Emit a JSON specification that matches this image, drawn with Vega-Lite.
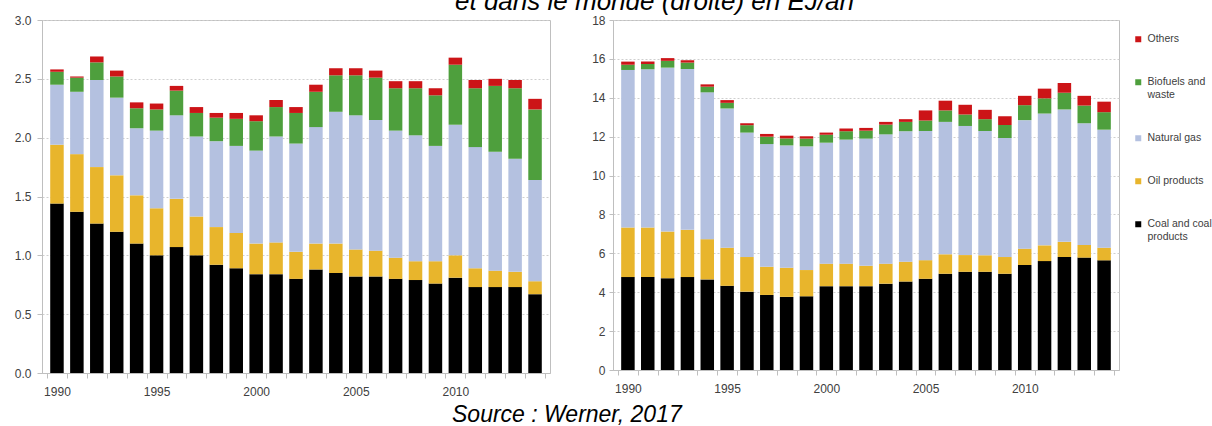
{
  "$schema": "https://vega.github.io/schema/vega-lite/v6.json",
  "autosize": {"type": "none"},
  "padding": {"left": 42, "top": 20, "right": 1170, "bottom": 406},
  "background": "white",
  "bounds": "flush",
  "spacing": 63,
  "config": {
    "font": "Liberation Sans",
    "view": {"stroke": "#bfbfbf", "strokeWidth": 1},
    "axis": {
      "labelFont": "Liberation Sans",
      "labelFontSize": 12,
      "labelColor": "#404040",
      "domainColor": "#bfbfbf",
      "tickColor": "#bfbfbf",
      "gridColor": "#cfcfcf",
      "gridDash": [2, 2],
      "title": null
    },
    "legend": {
      "labelFont": "Liberation Sans",
      "labelFontSize": 10.5,
      "labelColor": "#404040"
    }
  },
  "title": {
    "text": "Source : Werner, 2017",
    "orient": "bottom",
    "anchor": "start",
    "frame": "group",
    "dx": 410,
    "offset": 6,
    "fontSize": 23,
    "fontStyle": "italic",
    "fontWeight": "normal",
    "font": "Liberation Sans",
    "color": "#000000"
  },
  "datasets": {
    "europe": [
      {"year": 1990, "coal": 1.44, "oil": 0.50, "gas": 0.51, "biofuels": 0.11, "others": 0.02},
      {"year": 1991, "coal": 1.37, "oil": 0.49, "gas": 0.53, "biofuels": 0.12, "others": 0.01},
      {"year": 1992, "coal": 1.27, "oil": 0.48, "gas": 0.74, "biofuels": 0.15, "others": 0.05},
      {"year": 1993, "coal": 1.20, "oil": 0.48, "gas": 0.66, "biofuels": 0.18, "others": 0.05},
      {"year": 1994, "coal": 1.10, "oil": 0.41, "gas": 0.57, "biofuels": 0.17, "others": 0.05},
      {"year": 1995, "coal": 1.00, "oil": 0.40, "gas": 0.66, "biofuels": 0.18, "others": 0.05},
      {"year": 1996, "coal": 1.07, "oil": 0.41, "gas": 0.71, "biofuels": 0.21, "others": 0.04},
      {"year": 1997, "coal": 1.00, "oil": 0.33, "gas": 0.68, "biofuels": 0.20, "others": 0.05},
      {"year": 1998, "coal": 0.92, "oil": 0.32, "gas": 0.73, "biofuels": 0.20, "others": 0.04},
      {"year": 1999, "coal": 0.89, "oil": 0.30, "gas": 0.74, "biofuels": 0.23, "others": 0.05},
      {"year": 2000, "coal": 0.84, "oil": 0.26, "gas": 0.79, "biofuels": 0.25, "others": 0.05},
      {"year": 2001, "coal": 0.84, "oil": 0.27, "gas": 0.90, "biofuels": 0.25, "others": 0.06},
      {"year": 2002, "coal": 0.80, "oil": 0.23, "gas": 0.92, "biofuels": 0.26, "others": 0.05},
      {"year": 2003, "coal": 0.88, "oil": 0.22, "gas": 0.99, "biofuels": 0.30, "others": 0.06},
      {"year": 2004, "coal": 0.85, "oil": 0.25, "gas": 1.12, "biofuels": 0.31, "others": 0.06},
      {"year": 2005, "coal": 0.82, "oil": 0.23, "gas": 1.14, "biofuels": 0.34, "others": 0.06},
      {"year": 2006, "coal": 0.82, "oil": 0.22, "gas": 1.11, "biofuels": 0.36, "others": 0.06},
      {"year": 2007, "coal": 0.80, "oil": 0.18, "gas": 1.08, "biofuels": 0.36, "others": 0.06},
      {"year": 2008, "coal": 0.79, "oil": 0.16, "gas": 1.07, "biofuels": 0.40, "others": 0.06},
      {"year": 2009, "coal": 0.76, "oil": 0.19, "gas": 0.98, "biofuels": 0.43, "others": 0.06},
      {"year": 2010, "coal": 0.81, "oil": 0.19, "gas": 1.11, "biofuels": 0.51, "others": 0.06},
      {"year": 2011, "coal": 0.73, "oil": 0.16, "gas": 1.03, "biofuels": 0.50, "others": 0.07},
      {"year": 2012, "coal": 0.73, "oil": 0.14, "gas": 1.01, "biofuels": 0.56, "others": 0.06},
      {"year": 2013, "coal": 0.73, "oil": 0.13, "gas": 0.96, "biofuels": 0.60, "others": 0.07},
      {"year": 2014, "coal": 0.67, "oil": 0.11, "gas": 0.86, "biofuels": 0.60, "others": 0.09}
    ],
    "world": [
      {"year": 1990, "coal": 4.78, "oil": 2.55, "gas": 8.10, "biofuels": 0.27, "others": 0.16},
      {"year": 1991, "coal": 4.78, "oil": 2.55, "gas": 8.14, "biofuels": 0.27, "others": 0.12},
      {"year": 1992, "coal": 4.72, "oil": 2.40, "gas": 8.43, "biofuels": 0.35, "others": 0.14},
      {"year": 1993, "coal": 4.78, "oil": 2.43, "gas": 8.27, "biofuels": 0.33, "others": 0.12},
      {"year": 1994, "coal": 4.66, "oil": 2.07, "gas": 7.55, "biofuels": 0.29, "others": 0.12},
      {"year": 1995, "coal": 4.33, "oil": 1.96, "gas": 7.16, "biofuels": 0.29, "others": 0.14},
      {"year": 1996, "coal": 4.03, "oil": 1.78, "gas": 6.40, "biofuels": 0.38, "others": 0.10},
      {"year": 1997, "coal": 3.86, "oil": 1.45, "gas": 6.31, "biofuels": 0.38, "others": 0.14},
      {"year": 1998, "coal": 3.76, "oil": 1.50, "gas": 6.29, "biofuels": 0.36, "others": 0.14},
      {"year": 1999, "coal": 3.79, "oil": 1.35, "gas": 6.36, "biofuels": 0.40, "others": 0.12},
      {"year": 2000, "coal": 4.31, "oil": 1.16, "gas": 6.22, "biofuels": 0.41, "others": 0.11},
      {"year": 2001, "coal": 4.31, "oil": 1.16, "gas": 6.38, "biofuels": 0.43, "others": 0.14},
      {"year": 2002, "coal": 4.31, "oil": 1.05, "gas": 6.54, "biofuels": 0.41, "others": 0.14},
      {"year": 2003, "coal": 4.44, "oil": 1.03, "gas": 6.65, "biofuels": 0.50, "others": 0.14},
      {"year": 2004, "coal": 4.55, "oil": 1.02, "gas": 6.71, "biofuels": 0.48, "others": 0.14},
      {"year": 2005, "coal": 4.69, "oil": 0.96, "gas": 6.64, "biofuels": 0.54, "others": 0.52},
      {"year": 2006, "coal": 4.95, "oil": 1.00, "gas": 6.81, "biofuels": 0.59, "others": 0.50},
      {"year": 2007, "coal": 5.05, "oil": 0.86, "gas": 6.64, "biofuels": 0.59, "others": 0.50},
      {"year": 2008, "coal": 5.05, "oil": 0.85, "gas": 6.39, "biofuels": 0.61, "others": 0.48},
      {"year": 2009, "coal": 4.95, "oil": 0.86, "gas": 6.12, "biofuels": 0.67, "others": 0.45},
      {"year": 2010, "coal": 5.40, "oil": 0.84, "gas": 6.61, "biofuels": 0.77, "others": 0.48},
      {"year": 2011, "coal": 5.60, "oil": 0.81, "gas": 6.78, "biofuels": 0.78, "others": 0.50},
      {"year": 2012, "coal": 5.81, "oil": 0.78, "gas": 6.81, "biofuels": 0.86, "others": 0.50},
      {"year": 2013, "coal": 5.78, "oil": 0.65, "gas": 6.26, "biofuels": 0.91, "others": 0.50},
      {"year": 2014, "coal": 5.64, "oil": 0.65, "gas": 6.07, "biofuels": 0.90, "others": 0.54}
    ]
  },
  "hconcat": [
    {
      "width": 508,
      "height": 353,
      "data": {"name": "europe"},
      "transform": [
        {"fold": ["coal", "oil", "gas", "biofuels", "others"], "as": ["fuel", "value"]},
        {"window": [{"op": "row_number", "as": "layer"}], "groupby": ["year"]}
      ],
      "mark": {"type": "bar", "width": 13.5},
      "encoding": {
        "x": {
          "field": "year",
          "type": "quantitative",
          "scale": {"domain": [1989.5, 2014.5], "nice": false, "zero": false},
          "axis": {
            "values": [1989.5, 1990, 1990.5, 1991.5, 1992.5, 1993.5, 1994.5, 1995, 1995.5, 1996.5, 1997.5, 1998.5, 1999.5, 2000, 2000.5, 2001.5, 2002.5, 2003.5, 2004.5, 2005, 2005.5, 2006.5, 2007.5, 2008.5, 2009.5, 2010, 2010.5, 2011.5, 2012.5, 2013.5, 2014.5],
            "labelExpr": "datum.value % 5 === 0 ? format(datum.value, 'd') : ''",
            "tickOpacity": {"condition": {"test": "datum.value % 1 !== 0", "value": 1}, "value": 0},
            "tickSize": 5,
            "labelPadding": 8,
            "labelOverlap": false,
            "labelFlush": false,
            "grid": false
          }
        },
        "y": {
          "field": "value",
          "type": "quantitative",
          "stack": "zero",
          "scale": {"domain": [0, 3], "nice": false},
          "axis": {
            "values": [0, 0.5, 1, 1.5, 2, 2.5, 3],
            "format": ".1f",
            "tickSize": 5,
            "labelPadding": 6,
            "grid": true
          }
        },
        "order": {"field": "layer", "type": "quantitative", "sort": "ascending"},
        "color": {
          "field": "fuel",
          "type": "nominal",
          "scale": {
            "domain": ["others", "biofuels", "gas", "oil", "coal"],
            "range": ["#cc1417", "#4e9f3d", "#b4c1e0", "#e8b52c", "#000000"]
          },
          "legend": {
            "title": null,
            "orient": "none",
            "legendX": 1091,
            "legendY": 14,
            "symbolType": "square",
            "symbolSize": 36,
            "symbolStrokeWidth": 0,
            "labelOffset": 4,
            "rowPadding": 32,
            "labelExpr": "datum.label === 'others' ? 'Others' : datum.label === 'biofuels' ? ['Biofuels and', 'waste'] : datum.label === 'gas' ? 'Natural gas' : datum.label === 'oil' ? 'Oil products' : ['Coal and coal', 'products']"
          }
        }
      }
    },
    {
      "width": 506,
      "height": 350,
      "data": {"name": "world"},
      "title": {
        "text": "et dans le monde (droite) en EJ/an",
        "orient": "top",
        "anchor": "start",
        "frame": "group",
        "dx": -158,
        "dy": 24,
        "offset": 2,
        "baseline": "alphabetic",
        "fontSize": 26,
        "fontStyle": "italic",
        "fontWeight": "normal",
        "font": "Liberation Sans",
        "color": "#000000"
      },
      "transform": [
        {"fold": ["coal", "oil", "gas", "biofuels", "others"], "as": ["fuel", "value"]},
        {"window": [{"op": "row_number", "as": "layer"}], "groupby": ["year"]}
      ],
      "mark": {"type": "bar", "width": 13.5},
      "encoding": {
        "x": {
          "field": "year",
          "type": "quantitative",
          "scale": {"domain": [1989.5, 2014.5], "nice": false, "zero": false},
          "axis": {
            "values": [1989.5, 1990, 1990.5, 1991.5, 1992.5, 1993.5, 1994.5, 1995, 1995.5, 1996.5, 1997.5, 1998.5, 1999.5, 2000, 2000.5, 2001.5, 2002.5, 2003.5, 2004.5, 2005, 2005.5, 2006.5, 2007.5, 2008.5, 2009.5, 2010, 2010.5, 2011.5, 2012.5, 2013.5, 2014.5],
            "labelExpr": "datum.value % 5 === 0 ? format(datum.value, 'd') : ''",
            "tickOpacity": {"condition": {"test": "datum.value % 1 !== 0", "value": 1}, "value": 0},
            "tickSize": 5,
            "labelPadding": 8,
            "labelOverlap": false,
            "labelFlush": false,
            "grid": false
          }
        },
        "y": {
          "field": "value",
          "type": "quantitative",
          "stack": "zero",
          "scale": {"domain": [0, 18], "nice": false},
          "axis": {
            "values": [0, 2, 4, 6, 8, 10, 12, 14, 16, 18],
            "format": "d",
            "tickSize": 4,
            "labelPadding": 4,
            "grid": true
          }
        },
        "order": {"field": "layer", "type": "quantitative", "sort": "ascending"},
        "color": {
          "field": "fuel",
          "type": "nominal",
          "scale": {
            "domain": ["others", "biofuels", "gas", "oil", "coal"],
            "range": ["#cc1417", "#4e9f3d", "#b4c1e0", "#e8b52c", "#000000"]
          },
          "legend": {
            "title": null,
            "orient": "none",
            "legendX": 1091,
            "legendY": 14,
            "symbolType": "square",
            "symbolSize": 36,
            "symbolStrokeWidth": 0,
            "labelOffset": 4,
            "rowPadding": 32,
            "labelExpr": "datum.label === 'others' ? 'Others' : datum.label === 'biofuels' ? ['Biofuels and', 'waste'] : datum.label === 'gas' ? 'Natural gas' : datum.label === 'oil' ? 'Oil products' : ['Coal and coal', 'products']"
          }
        }
      }
    }
  ],
  "resolve": {"scale": {"color": "shared"}}
}
